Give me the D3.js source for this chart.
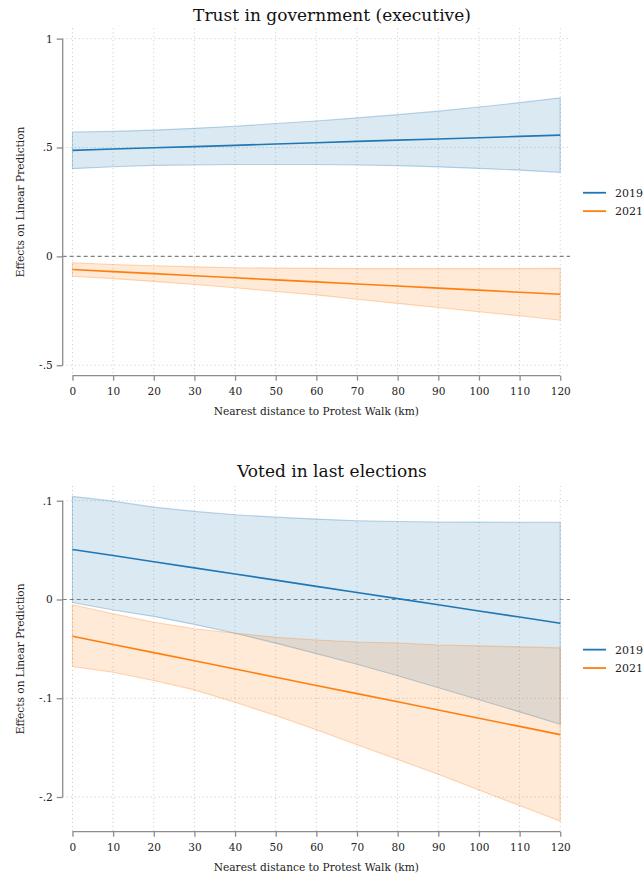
<!DOCTYPE html>
<html>
<head>
<meta charset="utf-8">
<script src="https://cdn.jsdelivr.net/npm/d3@7"></script>
<style>
  body { margin: 0; background: #fff; }
  svg { display: block; }
</style>
</head>
<body>
<svg id="chart" width="643" height="877"></svg>
<script>
// ---- data -------------------------------------------------------------
const distances = [0, 10, 20, 30, 40, 50, 60, 70, 80, 90, 100, 110, 120];
const xTickValues = [0, 10, 20, 30, 40, 50, 60, 70, 80, 90, 100, 110, 120];

const seriesNames = ["2019", "2021"];
const seriesColors = ["#1f77b4", "#ff7f0e"];

// Panel 1: trust in government (executive)
const trustTitle = "Trust in government (executive)";
const trust2019 = [0.487, 0.493, 0.499, 0.504, 0.510, 0.516, 0.522, 0.528, 0.534, 0.539, 0.545, 0.551, 0.557];
const trust2019Hi = [0.571, 0.574, 0.580, 0.588, 0.598, 0.610, 0.622, 0.636, 0.651, 0.667, 0.686, 0.706, 0.728];
const trust2019Lo = [0.403, 0.412, 0.418, 0.420, 0.422, 0.422, 0.422, 0.420, 0.417, 0.411, 0.404, 0.396, 0.386];
const trust2021 = [-0.060, -0.070, -0.079, -0.089, -0.098, -0.108, -0.117, -0.127, -0.136, -0.146, -0.155, -0.165, -0.174];
const trust2021Hi = [-0.029, -0.037, -0.043, -0.048, -0.052, -0.054, -0.055, -0.056, -0.056, -0.056, -0.056, -0.056, -0.055];
const trust2021Lo = [-0.091, -0.102, -0.115, -0.129, -0.144, -0.161, -0.177, -0.197, -0.216, -0.235, -0.254, -0.273, -0.293];
const trustYTicks = [1, 0.5, 0, -0.5];
const trustYLabels = ["1", ".5", "0", "-.5"];

// Panel 2: voted in last elections
const voteTitle = "Voted in last elections";
const vote2019 = [0.0507, 0.0445, 0.0382, 0.0320, 0.0258, 0.0196, 0.0133, 0.0071, 0.0009, -0.0054, -0.0116, -0.0178, -0.0241];
const vote2019Hi = [0.1044, 0.0996, 0.0935, 0.0892, 0.0858, 0.0834, 0.0814, 0.0798, 0.0790, 0.0785, 0.0783, 0.0782, 0.0782];
const vote2019Lo = [-0.0030, -0.0106, -0.0171, -0.0252, -0.0342, -0.0442, -0.0548, -0.0656, -0.0772, -0.0893, -0.1015, -0.1138, -0.1264];
const vote2021 = [-0.0372, -0.0455, -0.0538, -0.0621, -0.0704, -0.0787, -0.0870, -0.0953, -0.1036, -0.1119, -0.1202, -0.1285, -0.1368];
const vote2021Hi = [-0.0054, -0.0145, -0.0230, -0.0297, -0.0341, -0.0382, -0.0410, -0.0430, -0.0440, -0.0460, -0.0470, -0.0480, -0.0490];
const vote2021Lo = [-0.0679, -0.0736, -0.0820, -0.0915, -0.1040, -0.1175, -0.1320, -0.1470, -0.1620, -0.1770, -0.1930, -0.2087, -0.2246];
const voteYTicks = [0.1, 0, -0.1, -0.2];
const voteYLabels = [".1", "0", "-.1", "-.2"];

const xTitle = "Nearest distance to Protest Walk (km)";
const yTitle = "Effects on Linear Prediction";

// ---- drawing ----------------------------------------------------------
const FONT = "'DejaVu Serif', 'Liberation Serif', serif";
const svg = d3.select("#chart");

const plotLeft = 62.7, plotRight = 570;
const x = d3.scaleLinear().domain([-2.4, 122.4]).range([plotLeft, plotRight]);

function zip(est, lo, hi) {
  return distances.map((d, i) => ({ d, est: est[i], lo: lo[i], hi: hi[i] }));
}

function drawPanel(cfg) {
  const g = svg.append("g");
  const all = cfg.series.flatMap(s => s.lo.concat(s.hi)).concat(cfg.yTicks);
  const lo = d3.min(all), hi = d3.max(all);
  const pad = (hi - lo) * 0.032;
  const y = d3.scaleLinear().domain([lo - pad, hi + pad]).range([cfg.bottom, cfg.top]);

  // title
  g.append("text")
    .attr("x", 332).attr("y", cfg.titleY)
    .attr("text-anchor", "middle")
    .style("font-family", FONT).style("font-size", "17px").attr("fill", "#111")
    .text(cfg.title);

  // vertical grid
  g.append("g").selectAll("line").data(xTickValues).join("line")
    .attr("x1", d => x(d)).attr("x2", d => x(d))
    .attr("y1", cfg.top).attr("y2", cfg.bottom)
    .attr("stroke", "#c8c8c8").attr("stroke-width", 1)
    .attr("stroke-dasharray", "1,3");

  // horizontal grid (zero gets a dashed reference line instead)
  g.append("g").selectAll("line").data(cfg.yTicks.filter(v => v !== 0)).join("line")
    .attr("x1", plotLeft).attr("x2", plotRight)
    .attr("y1", d => y(d)).attr("y2", d => y(d))
    .attr("stroke", "#c8c8c8").attr("stroke-width", 1)
    .attr("stroke-dasharray", "1,3");

  g.append("line")
    .attr("x1", plotLeft).attr("x2", plotRight)
    .attr("y1", y(0)).attr("y2", y(0))
    .attr("stroke", "#808080").attr("stroke-width", 1.1)
    .attr("stroke-dasharray", "4,3");

  // confidence bands
  const area = d3.area().x(p => x(p.d)).y0(p => y(p.lo)).y1(p => y(p.hi));
  cfg.series.forEach((s, i) => {
    const pts = zip(s.est, s.lo, s.hi);
    g.append("path").datum(pts)
      .attr("d", d => area(d) )
      .attr("fill", seriesColors[i]).attr("fill-opacity", 0.16)
      .attr("stroke", seriesColors[i]).attr("stroke-opacity", 0.3)
      .attr("stroke-width", 1.1);
  });

  // point estimates
  const line = d3.line().x(p => x(p.d)).y(p => y(p.est));
  cfg.series.forEach((s, i) => {
    g.append("path").datum(zip(s.est, s.lo, s.hi))
      .attr("d", line)
      .attr("fill", "none")
      .attr("stroke", seriesColors[i]).attr("stroke-width", 1.6);
  });

  // y axis
  const yAxis = g.append("g").attr("transform", `translate(${plotLeft},0)`)
    .call(d3.axisLeft(y).tickValues(cfg.yTicks).tickSize(6).tickPadding(4)
      .tickFormat((d, i) => cfg.yLabels[i]));
  yAxis.select(".domain").remove();
  yAxis.append("line")
    .attr("x1", 0).attr("x2", 0)
    .attr("y1", y(d3.max(cfg.yTicks))).attr("y2", y(d3.min(cfg.yTicks)));

  // x axis
  const xAxis = g.append("g").attr("transform", `translate(0,${cfg.bottom})`)
    .call(d3.axisBottom(x).tickValues(xTickValues).tickSize(5).tickPadding(7)
      .tickFormat(d3.format("d")));
  xAxis.select(".domain").remove();
  xAxis.append("line")
    .attr("x1", x(d3.min(xTickValues))).attr("x2", x(d3.max(xTickValues)))
    .attr("y1", 0).attr("y2", 0);

  [yAxis, xAxis].forEach(a => {
    a.selectAll("line").attr("stroke", "#8c8c8c").attr("stroke-width", 1.3);
    a.selectAll("text").style("font-family", FONT).style("font-size", "10.5px").attr("fill", "#222");
  });

  // axis titles
  g.append("text")
    .attr("x", (x(0) + x(120)) / 2).attr("y", cfg.bottom + 39)
    .attr("text-anchor", "middle")
    .style("font-family", FONT).style("font-size", "10.6px").attr("fill", "#222")
    .text(xTitle);
  g.append("text")
    .attr("transform", `translate(24,${(cfg.top + cfg.bottom) / 2}) rotate(-90)`)
    .attr("text-anchor", "middle")
    .style("font-family", FONT).style("font-size", "10.6px").attr("fill", "#222")
    .text(yTitle);

  // legend
  const mid = (cfg.top + cfg.bottom) / 2;
  const leg = g.append("g").selectAll("g").data(seriesNames).join("g")
    .attr("transform", (d, i) => `translate(583,${mid - 9.2 + i * 18.4})`);
  leg.append("line").attr("x1", 0).attr("x2", 23)
    .attr("stroke", (d, i) => seriesColors[i]).attr("stroke-width", 1.8);
  leg.append("text").attr("x", 32).attr("dy", "0.35em")
    .style("font-family", FONT).style("font-size", "11px").attr("fill", "#222")
    .text(d => d);
}

drawPanel({
  title: trustTitle, titleY: 21, top: 28.2, bottom: 375.7,
  yTicks: trustYTicks, yLabels: trustYLabels,
  series: [
    { est: trust2019, lo: trust2019Lo, hi: trust2019Hi },
    { est: trust2021, lo: trust2021Lo, hi: trust2021Hi }
  ]
});

drawPanel({
  title: voteTitle, titleY: 477, top: 486, bottom: 831.7,
  yTicks: voteYTicks, yLabels: voteYLabels,
  series: [
    { est: vote2019, lo: vote2019Lo, hi: vote2019Hi },
    { est: vote2021, lo: vote2021Lo, hi: vote2021Hi }
  ]
});
</script>
</body>
</html>
